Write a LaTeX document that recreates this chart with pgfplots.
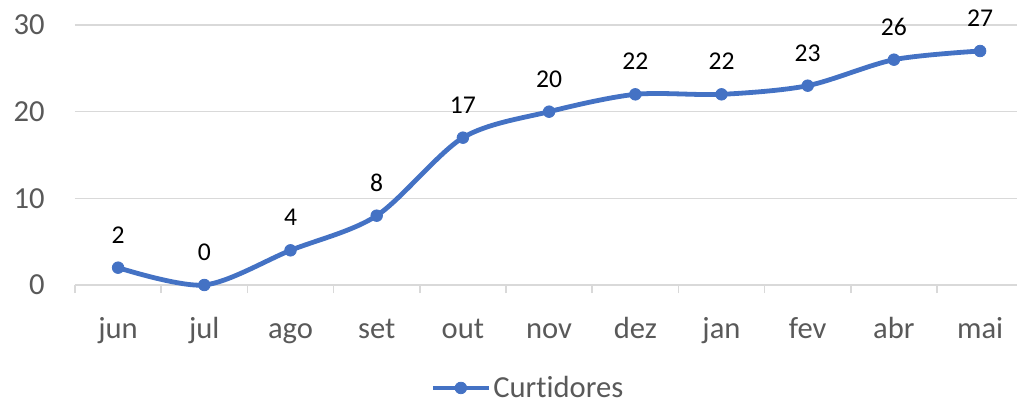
\documentclass[border=0pt]{standalone}
\usepackage{fontspec}
\setmainfont[Ligatures={NoCommon}]{Carlito}
\usepackage{pgfplots}
\pgfplotsset{compat=1.18}
\definecolor{serie}{HTML}{4472C4}
\definecolor{txt}{HTML}{595959}
\definecolor{grd}{HTML}{D9D9D9}
\begin{document}
\begin{tikzpicture}
\begin{axis}[
  at={(0,0)}, anchor=south west,
  scale only axis, width=471pt, height=130pt,
  xmin=-0.5, xmax=10.428, ymin=0, ymax=30,
  axis x line*=bottom, axis y line*=left,
  x axis line style={draw=grd, line width=0.75pt, -},
  y axis line style={draw=none},
  xtick={0,...,10},
  xticklabels={jun,jul,ago,set,out,nov,dez,jan,fev,abr,mai},
  minor xtick={-0.5,0.5,...,9.5},
  major tick length=0pt,
  minor tick length=4pt,
  tick align=outside,
  minor tick style={draw=grd, line width=0.75pt},
  ytick={0,10,20,30},
  ymajorgrids, grid style={draw=grd, line width=0.75pt},
  /pgf/number format/assume math mode=true,
  tick label style={font=\fontsize{15.3}{18}\selectfont, text=txt},
  xticklabel style={anchor=base, inner sep=0pt, yshift=-26.5pt},
  yticklabel style={anchor=east, inner sep=0pt, xshift=-15pt},
  nodes near coords,
  every node near coord/.append style={font=\fontsize{12.8}{15}\selectfont, text=black, anchor=south, inner sep=0pt, yshift=12pt},
  legend style={at={(0.3769,-0.396)}, anchor=west, draw=none, fill=none, inner sep=0pt,
    font=\fontsize{15.3}{18}\selectfont, text=txt, nodes={inner sep=1pt}},
  legend image code/.code={
    \draw[#1, mark=none] (0pt,0pt) -- (28pt,0pt);
    \draw[#1, only marks] plot coordinates {(14pt,0pt)};
  },
  clip=false,
]
\addplot[color=serie, line width=2.4pt, smooth, tension=0.5, mark=*, mark size=2.9pt, mark options={fill=serie, draw=serie, line width=0.4pt}]
coordinates {(0,2) (1,0) (2,4) (3,8) (4,17) (5,20) (6,22) (7,22) (8,23) (9,26) (10,27)};
\addlegendentry{Curtidores}
\end{axis}
\pgfresetboundingbox
\path[use as bounding box] (-37.5pt,-58.5pt) rectangle (471pt,142.5pt);
\end{tikzpicture}
\end{document}
